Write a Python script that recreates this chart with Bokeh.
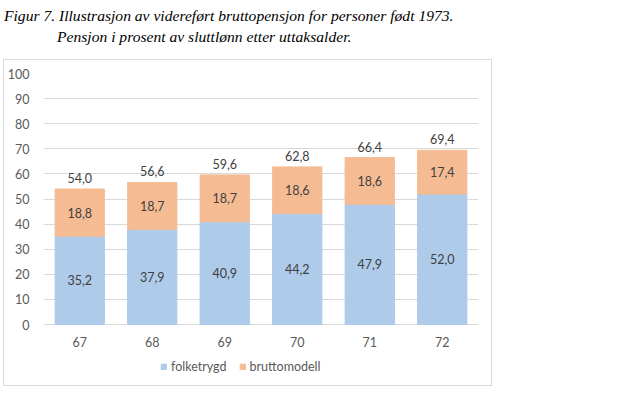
from bokeh.plotting import figure
from bokeh.models import ColumnDataSource, FixedTicker, Legend, LegendItem, Div, LabelSet
from bokeh.layouts import column
from bokeh.embed import file_html
from bokeh.resources import INLINE
from bokeh.core.properties import value

ages = ["67", "68", "69", "70", "71", "72"]
folketrygd = [35.2, 37.9, 40.9, 44.2, 47.9, 52.0]
bruttomodell = [18.8, 18.7, 18.7, 18.6, 18.6, 17.4]
totals = [54.0, 56.6, 59.6, 62.8, 66.4, 69.4]
y_ticks = [0, 10, 20, 30, 40, 50, 60, 70, 80, 90, 100]

BLUE = "#aecbe9"
ORANGE = "#f5bc94"
TXT = "#404040"
AX = "#595959"
FONT = "Lato"

def fmt(v):
    return f"{v:.1f}".replace(".", ",")

src = ColumnDataSource(dict(
    age=ages,
    zero=[0] * len(ages),
    top_f=folketrygd,
    top_b=[a + b for a, b in zip(folketrygd, bruttomodell)],
    mid_f=[a / 2 for a in folketrygd],
    mid_b=[a + b / 2 for a, b in zip(folketrygd, bruttomodell)],
    tot=totals,
    lab_f=[fmt(v) for v in folketrygd],
    lab_b=[fmt(v) for v in bruttomodell],
    lab_t=[fmt(v) for v in totals],
))

title = Div(
    text=("<div style='font-family:\"Liberation Serif\",serif;font-style:italic;font-size:15.6px;"
          "line-height:21px;color:#000;margin:0;padding:5px 0 0 4px'>"
          "Figur 7. Illustrasjon av videreført bruttopensjon for personer født 1973.<br>"
          "<span style='padding-left:53px'>Pensjon i prosent av sluttlønn etter uttaksalder.</span></div>"),
    width=602, height=60, margin=(0, 0, 0, 0),
)

# frame extends below zero to host the category labels and legend inside the chart box
p = figure(
    x_range=ages, y_range=(-23.9, 100),
    width=487, height=325,
    output_backend="svg", toolbar_location=None,
    min_border_left=39, min_border_right=13, min_border_top=13, min_border_bottom=1,
    margin=(0, 0, 0, 4),
)
p.styles = {"box-shadow": "0 0 0 1px #d9d9d9"}
p.outline_line_color = None
p.background_fill_color = "white"
p.border_fill_color = "white"

r1 = p.vbar(x="age", bottom=0, top="top_f", width=0.68, color=BLUE, source=src)
r2 = p.vbar(x="age", bottom="top_f", top="top_b", width=0.68, color=ORANGE, source=src)

for col_y, col_t, off in (("mid_f", "lab_f", 0), ("mid_b", "lab_b", 0), ("tot", "lab_t", 11)):
    p.add_layout(LabelSet(x="age", y=col_y, text=col_t, source=src, y_offset=off,
                          text_align="center", text_baseline="middle",
                          text_font=value(FONT), text_font_size="12.5px", text_color=TXT))

# category labels under the zero line
p.add_layout(LabelSet(x="age", y="zero", text="age", source=src, y_offset=-17,
                      text_align="center", text_baseline="middle",
                      text_font=value(FONT), text_font_size="12.5px", text_color=AX))

p.yaxis.ticker = FixedTicker(ticks=y_ticks)
p.ygrid.ticker = FixedTicker(ticks=y_ticks)
p.xgrid.grid_line_color = None
p.ygrid.grid_line_color = "#d9d9d9"
p.ygrid.grid_line_width = 1
p.xaxis.visible = False

p.yaxis.major_tick_line_color = None
p.yaxis.minor_tick_line_color = None
p.yaxis.major_label_text_font = FONT
p.yaxis.major_label_text_font_size = "12.5px"
p.yaxis.major_label_text_color = AX
p.yaxis.axis_line_color = None
p.yaxis.major_label_standoff = 8

legend = Legend(
    items=[LegendItem(label="folketrygd", renderers=[r1]),
           LegendItem(label="bruttomodell", renderers=[r2])],
    orientation="horizontal", location=(117, 10),
    border_line_color=None, background_fill_alpha=0,
    glyph_width=7, glyph_height=7, label_text_font=FONT, label_text_font_size="12.5px",
    label_text_color=AX, spacing=12, padding=0, margin=0, label_standoff=4,
)
p.add_layout(legend, "center")

layout = column(title, p, spacing=0, margin=(0, 0, 0, 0))

with open("out.html", "w") as fh:
    fh.write(file_html(layout, INLINE))
